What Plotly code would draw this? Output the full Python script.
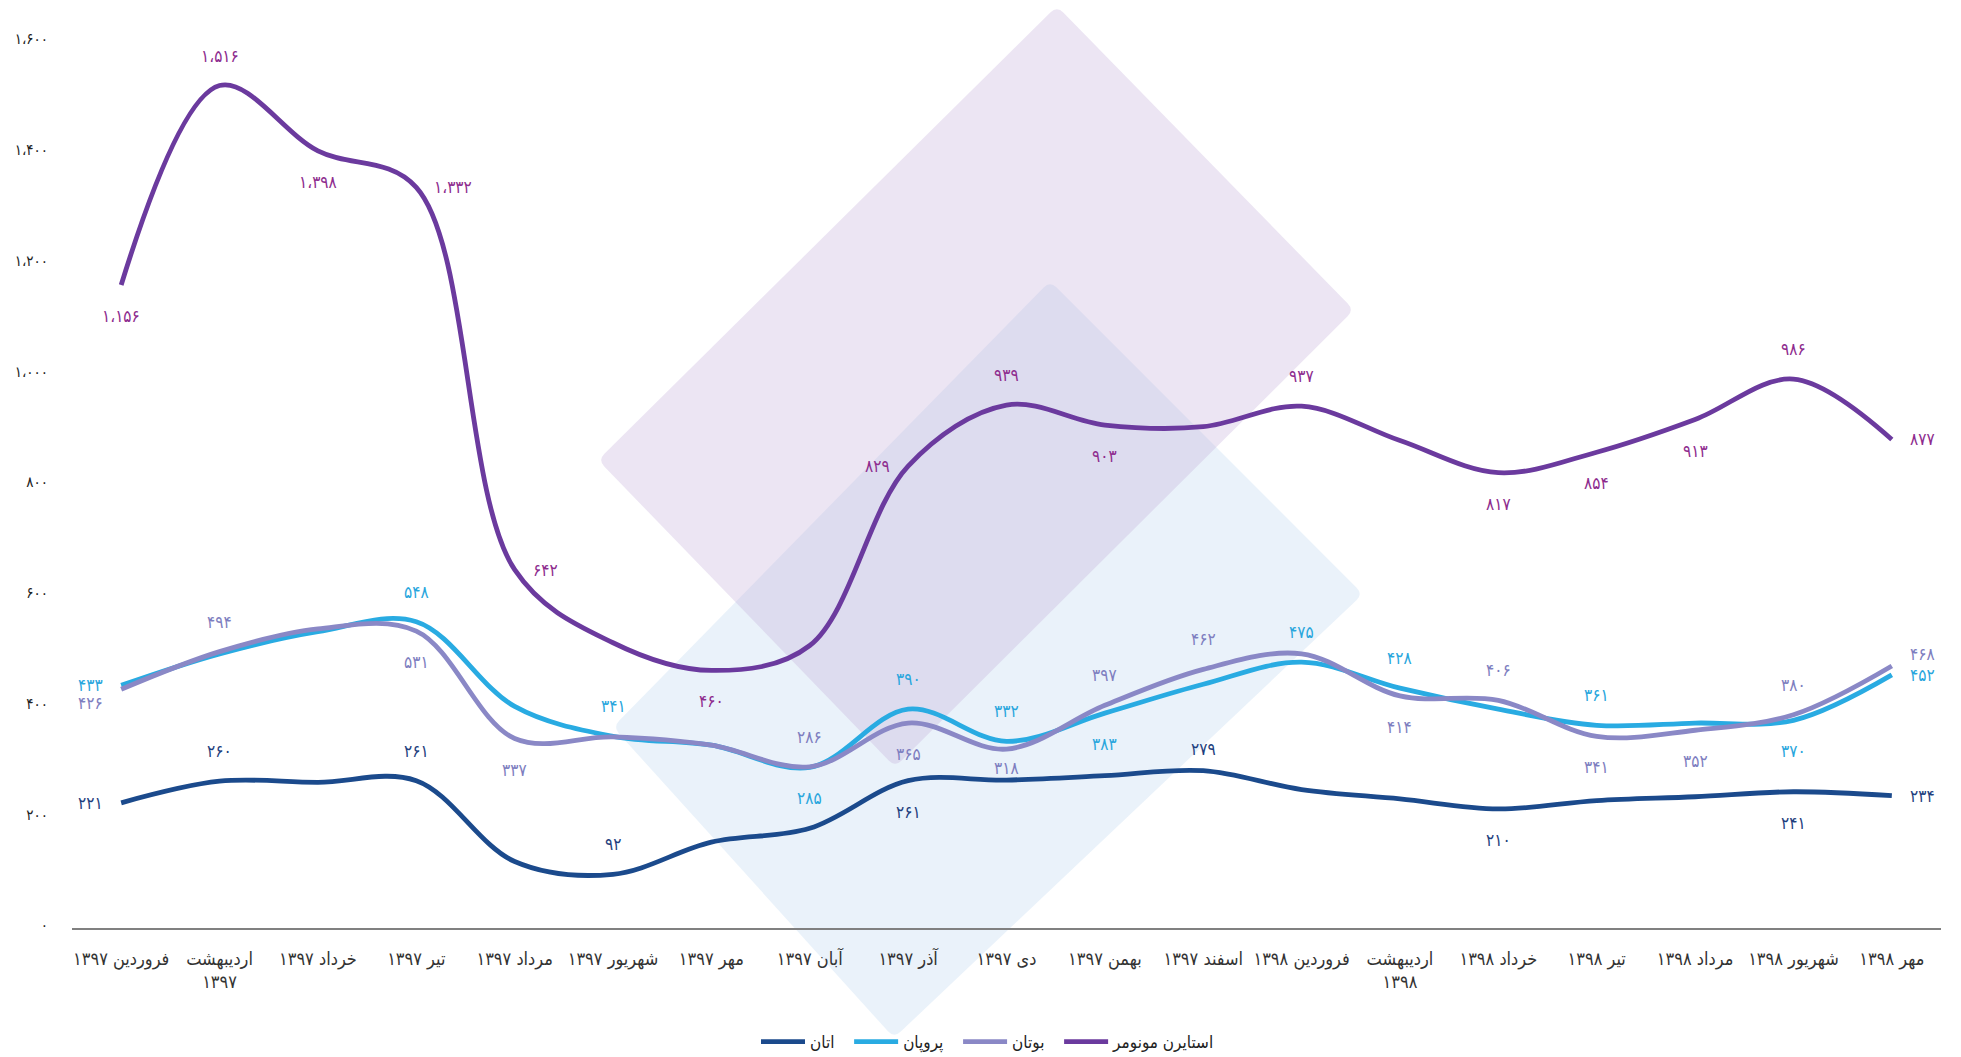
import plotly.graph_objects as go

# ---------------- data ----------------
months = ["فروردین ۱۳۹۷", "اردیبهشت ۱۳۹۷", "خرداد ۱۳۹۷", "تیر ۱۳۹۷", "مرداد ۱۳۹۷",
          "شهریور ۱۳۹۷", "مهر ۱۳۹۷", "آبان ۱۳۹۷", "آذر ۱۳۹۷", "دی ۱۳۹۷", "بهمن ۱۳۹۷",
          "اسفند ۱۳۹۷", "فروردین ۱۳۹۸", "اردیبهشت ۱۳۹۸", "خرداد ۱۳۹۸", "تیر ۱۳۹۸",
          "مرداد ۱۳۹۸", "شهریور ۱۳۹۸", "مهر ۱۳۹۸"]
month_ticks = ["فروردین ۱۳۹۷", "اردیبهشت<br>۱۳۹۷", "خرداد ۱۳۹۷", "تیر ۱۳۹۷", "مرداد ۱۳۹۷",
               "شهریور ۱۳۹۷", "مهر ۱۳۹۷", "آبان ۱۳۹۷", "آذر ۱۳۹۷", "دی ۱۳۹۷", "بهمن ۱۳۹۷",
               "اسفند ۱۳۹۷", "فروردین ۱۳۹۸", "اردیبهشت<br>۱۳۹۸", "خرداد ۱۳۹۸", "تیر ۱۳۹۸",
               "مرداد ۱۳۹۸", "شهریور ۱۳۹۸", "مهر ۱۳۹۸"]

styrene = [1156, 1516, 1398, 1332, 642, 510, 460, 505, 829, 939, 903, 900, 937, 875, 817, 854, 913, 986, 877]
propane = [433, 490, 530, 548, 395, 341, 325, 285, 390, 332, 383, 435, 475, 428, 390, 361, 365, 370, 452]
butane = [426, 494, 535, 531, 337, 340, 325, 286, 365, 318, 397, 462, 490, 414, 406, 341, 352, 380, 468]
ethane = [221, 260, 258, 261, 115, 92, 150, 175, 261, 262, 270, 279, 245, 228, 210, 225, 232, 241, 234]

series_names = ["اتان", "پروپان", "بوتان", "استایرن مونومر"]

y_ticks = [0, 200, 400, 600, 800, 1000, 1200, 1400, 1600]

# which points carry a value label, and where (a=above, b=below, l=left, r=right, bb=just below)
styrene_lab = {0: "b", 1: "a", 2: "b", 3: "r", 4: "r", 6: "b", 8: "l", 9: "a", 10: "b",
               12: "a", 14: "b", 15: "b", 16: "b", 17: "a", 18: "r"}
propane_lab = {0: "l", 3: "a", 5: "a", 7: "b", 8: "a", 9: "a", 10: "b", 12: "a", 13: "a",
               15: "a", 17: "b", 18: "r"}
butane_lab = {0: "bl", 1: "a", 3: "b", 4: "b", 7: "a", 8: "b", 9: "bb", 10: "a", 11: "a",
              13: "b", 14: "a", 15: "b", 16: "b", 17: "a", 18: "ar"}
ethane_lab = {0: "l", 1: "a", 3: "a", 5: "a", 8: "b", 11: "aa", 14: "b", 17: "b", 18: "r"}

# ---------------- helpers ----------------
FA = str.maketrans("0123456789", "۰۱۲۳۴۵۶۷۸۹")


def fa(n):
    return f"{n:,}".replace(",", "،").translate(FA)


FONT = "DejaVu Sans Condensed, DejaVu Sans, sans-serif"

PLACE = {
    "a": ("center", 0, 30),
    "aa": ("center", 0, 22),
    "b": ("center", 0, -31),
    "bb": ("center", 0, -19),
    "l": ("right", -16, 0),
    "r": ("left", 16, 0),
    "bl": ("right", -16, -14),
    "ar": ("left", 16, 12),
}

fig = go.Figure()

series = [
    (ethane, "#1B4A8C", "#1F3F7E", ethane_lab),
    (propane, "#29ABE2", "#29A6DD", propane_lab),
    (butane, "#8A88C6", "#7E7EC0", butane_lab),
    (styrene, "#6B3A9E", "#8E2C8E", styrene_lab),
]

annotations = []
n_series = len(series)
for k, ((vals, lc, tc, labs), name) in enumerate(zip(series, series_names)):
    pad = "" if k == n_series - 1 else "\u00a0\u00a0"
    fig.add_trace(go.Scatter(
        x=months, y=vals, name=name + pad, mode="lines",
        line=dict(color=lc, width=4.8, shape="spline", smoothing=1.0),
        hoverinfo="skip",
    ))
    for i, code in labs.items():
        xanchor, xshift, yshift = PLACE[code]
        annotations.append(dict(
            x=months[i], y=vals[i], xref="x", yref="y", text=fa(vals[i]),
            showarrow=False, xanchor=xanchor, yanchor="middle",
            xshift=xshift, yshift=yshift,
            font=dict(family=FONT, size=17, color=tc),
        ))

# ---------------- layout geometry (page has an 8px body margin) ----------------
OFF = 8
PAGE_W, PAGE_H = 1961, 1057
W, H = PAGE_W - OFF, PAGE_H - OFF
PL, PR, PT, PB = 72, 1941, 39, 928          # plot area in page pixels
L, R, T, B = PL - OFF, PAGE_W - PR, PT - OFF, PAGE_H - PB
PW, PH = PR - PL, PB - PT


def px2paper(p):
    return ((p[0] - PL) / PW, (PB - p[1]) / PH)


def rounded_path(pts, r):
    n = len(pts)
    segs = []
    for k in range(n):
        p0, p1, p2 = pts[k - 1], pts[k], pts[(k + 1) % n]

        def towards(a, b, d):
            dx, dy = b[0] - a[0], b[1] - a[1]
            ln = (dx * dx + dy * dy) ** 0.5
            return (a[0] + dx / ln * d, a[1] + dy / ln * d)
        a = px2paper(towards(p1, p0, r))
        c = px2paper(p1)
        b = px2paper(towards(p1, p2, r))
        segs.append((a, c, b))
    d = f"M {segs[0][0][0]:.5f},{segs[0][0][1]:.5f} "
    for k, (a, c, b) in enumerate(segs):
        if k > 0:
            d += f"L {a[0]:.5f},{a[1]:.5f} "
        d += f"Q {c[0]:.5f},{c[1]:.5f} {b[0]:.5f},{b[1]:.5f} "
    d += "Z"
    return d


blue_diamond = [(1050, 281), (1363, 594), (894, 1038), (613, 727)]
purple_diamond = [(1057, 6), (1354, 310), (895, 767), (598, 460)]

shapes = [
    dict(type="path", xref="paper", yref="paper", layer="below",
         path=rounded_path(blue_diamond, 9),
         fillcolor="rgba(185,212,238,0.30)", line=dict(width=0)),
    dict(type="path", xref="paper", yref="paper", layer="below",
         path=rounded_path(purple_diamond, 9),
         fillcolor="rgba(192,168,214,0.30)", line=dict(width=0)),
]

fig.update_layout(
    width=W, height=H,
    margin=dict(l=L, r=R, t=T, b=B, autoexpand=False),
    paper_bgcolor="white", plot_bgcolor="rgba(0,0,0,0)",
    shapes=shapes, annotations=annotations,
    showlegend=True,
    legend=dict(orientation="h", x=(988 - PL) / PW, xanchor="center",
                y=(PB - 1042) / PH, yanchor="middle",
                font=dict(family=FONT, size=17, color="#222"),
                itemwidth=44, traceorder="normal", bgcolor="rgba(0,0,0,0)"),
    font=dict(family=FONT),
)

fig.update_xaxes(
    type="category", range=[-0.5, 18.5],
    tickvals=months, ticktext=month_ticks,
    showgrid=False, zeroline=False, automargin=False,
    showline=True, linecolor="#808080", linewidth=2,
    ticks="outside", ticklen=13, tickcolor="rgba(0,0,0,0)",
    tickfont=dict(family=FONT, size=18, color="#333"),
    tickangle=0,
)
fig.update_yaxes(
    range=[-5, 1600], automargin=False,
    tickvals=y_ticks, ticktext=[fa(v) for v in y_ticks],
    showgrid=False, zeroline=False, showline=False,
    ticks="outside", ticklen=20, tickcolor="rgba(0,0,0,0)",
    tickfont=dict(family=FONT, size=15, color="#222"),
)

fig.write_html("out.html")
